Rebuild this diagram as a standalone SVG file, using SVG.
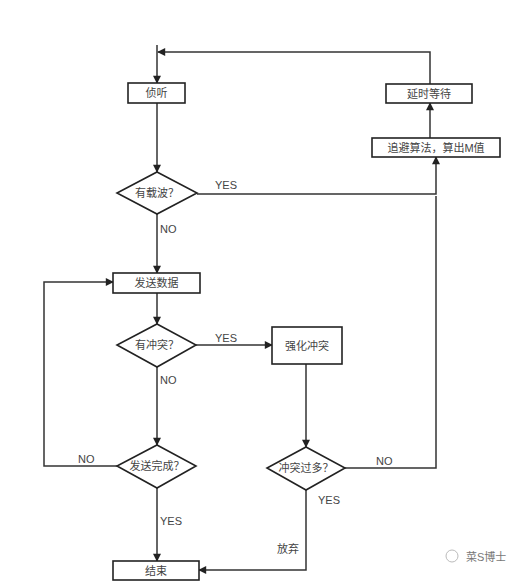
<svg xmlns="http://www.w3.org/2000/svg" width="529" height="582" viewBox="0 0 529 582">
<style>
.box{fill:#fff;stroke:#222;stroke-width:1.6}
.ln{fill:none;stroke:#333;stroke-width:1.5}
.t{font-family:"Liberation Sans","Noto Sans CJK SC",sans-serif;font-size:11px;fill:#444;text-anchor:middle;dominant-baseline:central}
.lb{font-family:"Liberation Sans","Noto Sans CJK SC",sans-serif;font-size:11px;fill:#444}
</style>
<defs>
<marker id="ar" viewBox="0 0 10 10" refX="9" refY="5" markerWidth="9" markerHeight="8" markerUnits="userSpaceOnUse" orient="auto">
<path d="M0,0 L10,5 L0,10 z" fill="#222"/>
</marker>
</defs>
<rect width="529" height="582" fill="#fff"/>
<g id="connectors">
<path class="ln" d="M157,45 V83" marker-end="url(#ar)"/>
<path class="ln" d="M430,84 V52 H158" marker-end="url(#ar)"/>
<path class="ln" d="M157,103 V172" marker-end="url(#ar)"/>
<path class="ln" d="M197,194 H436 V157" marker-end="url(#ar)" stroke-width="2"/>
<path class="ln" d="M430,138 V103" marker-end="url(#ar)"/>
<path class="ln" d="M157,214 V273" marker-end="url(#ar)"/>
<path class="ln" d="M157,293 V324" marker-end="url(#ar)"/>
<path class="ln" d="M196,345 H272" marker-end="url(#ar)"/>
<path class="ln" d="M157,367 V445" marker-end="url(#ar)"/>
<path class="ln" d="M117,466 H44 V282 H113" marker-end="url(#ar)"/>
<path class="ln" d="M157,488 V561" marker-end="url(#ar)"/>
<path class="ln" d="M306,364 V447" marker-end="url(#ar)"/>
<path class="ln" d="M345,468 H436 V196"/>
<path class="ln" d="M306,490 V570 H199" marker-end="url(#ar)"/>
</g>
<g id="n-listen"><rect class="box" x="128" y="83" width="57" height="20"/><text class="t" x="156.5" y="93">侦听</text></g>
<g id="n-carrier"><polygon class="box" points="157,172 197,193 157,214 117,193"/><text class="t" x="157" y="193">有载波？</text></g>
<g id="n-backoff"><rect class="box" x="372" y="138" width="128" height="19"/><text class="t" x="436" y="147.5">追避算法，算出M值</text></g>
<g id="n-wait"><rect class="box" x="386" y="84" width="86" height="19"/><text class="t" x="429" y="93.5">延时等待</text></g>
<g id="n-send"><rect class="box" x="113" y="273" width="87" height="20"/><text class="t" x="156.5" y="283">发送数据</text></g>
<g id="n-collide"><polygon class="box" points="157,324 196,345 157,367 117,345"/><text class="t" x="157" y="345">有冲突？</text></g>
<g id="n-jam"><rect class="box" x="272" y="327" width="70" height="37"/><text class="t" x="307" y="345.5">强化冲突</text></g>
<g id="n-toomany"><polygon class="box" points="306,447 345,468 306,490 267,468"/><text class="t" x="306" y="468">冲突过多？</text></g>
<g id="n-done"><polygon class="box" points="157,445 196,466 157,488 117,466"/><text class="t" x="157" y="466">发送完成？</text></g>
<g id="n-end"><rect class="box" x="113" y="561" width="86" height="19"/><text class="t" x="156" y="570.5">结束</text></g>
<g id="labels">
<text class="lb" x="215" y="189">YES</text>
<text class="lb" x="160" y="233">NO</text>
<text class="lb" x="215" y="342">YES</text>
<text class="lb" x="160" y="384">NO</text>
<text class="lb" x="78" y="463">NO</text>
<text class="lb" x="376" y="465">NO</text>
<text class="lb" x="318" y="504">YES</text>
<text class="lb" x="160" y="525">YES</text>
<text class="lb" x="277" y="553">放弃</text>
</g>
<g id="watermark">
<circle cx="452" cy="556" r="6" fill="none" stroke="#bbb" stroke-width="1"/>
<text class="lb" x="466" y="561" style="fill:#777">菜S博士</text>
</g>
</svg>
